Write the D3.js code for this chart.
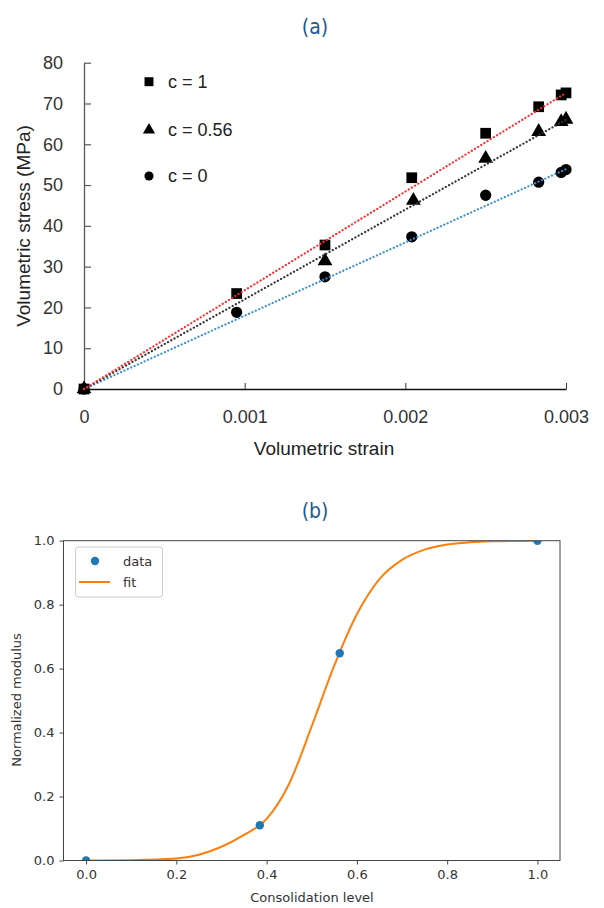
<!DOCTYPE html>
<html>
<head>
<meta charset="utf-8">
<script src="https://cdn.jsdelivr.net/npm/d3@7"></script>
<style>
  body { margin: 0; background: #fff; }
  svg { display: block; }
</style>
</head>
<body>
<svg id="chart" width="604" height="908"></svg>
<script>
// ---- (a) volumetric stress vs strain ----
const strainC1 = [0, 0.00095, 0.0015, 0.00204, 0.0025, 0.00283, 0.00297, 0.003];
const stressC1 = [0, 23.4, 35.3, 51.8, 62.7, 69.2, 72.1, 72.6];
const strainC056 = [0, 0.0015, 0.00205, 0.0025, 0.00283, 0.00297, 0.003];
const stressC056 = [0, 31.4, 46.2, 56.5, 63.1, 65.5, 66.1];
const strainC0 = [0, 0.00095, 0.0015, 0.00204, 0.0025, 0.00283, 0.00297, 0.003];
const stressC0 = [0, 18.8, 27.5, 37.3, 47.5, 50.7, 53.1, 53.8];
// dotted linear fits, read at both ends
const fitC1 = [[0, 0], [0.003, 72.6]];
const fitC056 = [[0, 0], [0.003, 66.0]];
const fitC0 = [[0, 0], [0.003, 53.9]];
const legendA = ["c = 1", "c = 0.56", "c = 0"];
const yTicksA = [0, 10, 20, 30, 40, 50, 60, 70, 80];
const xTicksA = [0, 0.001, 0.002, 0.003];
const xTickLabelsA = ["0", "0.001", "0.002", "0.003"];

// ---- (b) normalized modulus vs consolidation ----
const consolidation = [0, 0.385, 0.562, 1.0];
const modulus = [0, 0.11, 0.648, 1.0];
const fitX = [0, 0.1, 0.2, 0.25, 0.3, 0.35, 0.4, 0.45, 0.5, 0.55, 0.6, 0.65, 0.7, 0.75, 0.8, 0.85, 0.9, 1.0];
const fitY = [0, 0.001, 0.006, 0.018, 0.043, 0.08, 0.13, 0.24, 0.42, 0.61, 0.77, 0.88, 0.94, 0.972, 0.988, 0.995, 0.998, 1.0];
const ticksB = [0, 0.2, 0.4, 0.6, 0.8, 1.0];

const svg = d3.select('#chart');
const fontA = '"Liberation Sans", Arial, sans-serif';
const fontB = '"DejaVu Sans", sans-serif';
const titleFont = '"Liberation Sans Narrow", "DejaVu Sans Condensed", "Liberation Sans", sans-serif';

// titles
svg.append('text').attr('x', 315).attr('y', 34).attr('text-anchor', 'middle')
    .attr('font-family', titleFont).attr('font-size', 21).attr('fill', '#1d5a8e').text('(a)');
svg.append('text').attr('x', 315).attr('y', 518).attr('text-anchor', 'middle')
    .attr('font-family', titleFont).attr('font-size', 21).attr('fill', '#1d5a8e').text('(b)');

// ===== chart (a) =====
let xA = d3.scaleLinear().domain([0, 0.003]).range([84, 566]);
let yA = d3.scaleLinear().domain([0, 80]).range([389, 62.7]);

let gA = svg.append('g');

let yAxisA = gA.append('g')
    .attr('transform', 'translate(' + xA(0) + ',0)')
    .call(d3.axisLeft(yA).tickValues(yTicksA).tickFormat(d3.format('d'))
        .tickSizeInner(-7).tickSizeOuter(0).tickPadding(21));
yAxisA.select('.domain').attr('stroke', '#595959').attr('stroke-width', 1.3);
yAxisA.selectAll('.tick line').attr('stroke', '#595959').attr('stroke-width', 1.2);
yAxisA.selectAll('.tick text').attr('font-family', fontA).attr('font-size', 18).attr('fill', '#333');

let xAxisA = gA.append('g')
    .attr('transform', 'translate(0,' + yA(0) + ')')
    .call(d3.axisBottom(xA).tickValues(xTicksA).tickFormat((d, i) => xTickLabelsA[i])
        .tickSizeInner(-6).tickSizeOuter(0).tickPadding(21));
xAxisA.select('.domain').attr('stroke', '#111').attr('stroke-width', 1.3);
xAxisA.selectAll('.tick line').attr('stroke', '#333').attr('stroke-width', 1);
xAxisA.selectAll('.tick text').attr('font-family', fontA).attr('font-size', 18).attr('fill', '#333');

gA.append('text').attr('x', 324).attr('y', 455).attr('text-anchor', 'middle')
    .attr('font-family', fontA).attr('font-size', 19).attr('fill', '#222').text('Volumetric strain');
gA.append('text').attr('transform', 'translate(30,226) rotate(-90)').attr('text-anchor', 'middle')
    .attr('font-family', fontA).attr('font-size', 19).attr('fill', '#222').text('Volumetric stress (MPa)');

// markers (drawn before the fit lines, which sit on top)
const sym = [d3.symbolSquare, d3.symbolTriangle, d3.symbolCircle];
const symSize = [115, 95, 100];
const seriesA = [
  { xs: strainC056, ys: stressC056, s: 1 },
  { xs: strainC0, ys: stressC0, s: 2 },
  { xs: strainC1, ys: stressC1, s: 0 }
];
seriesA.forEach(function(ser) {
  gA.append('g').selectAll('path')
      .data(d3.range(ser.xs.length))
      .join('path')
      .attr('transform', i => 'translate(' + xA(ser.xs[i]) + ',' + yA(ser.ys[i]) + ')')
      .attr('d', d3.symbol().type(sym[ser.s]).size(symSize[ser.s]))
      .attr('fill', '#000');
});

let lineA = d3.line().x(d => xA(d[0])).y(d => yA(d[1]));
const fits = [[fitC0, '#3a8fd6'], [fitC056, '#333'], [fitC1, '#ff2a2a']];
fits.forEach(function(f) {
  gA.append('path')
      .attr('d', lineA(f[0]))
      .attr('fill', 'none')
      .attr('stroke', f[1])
      .attr('stroke-width', 2.2)
      .attr('stroke-linecap', 'round')
      .attr('stroke-dasharray', '0.1,3.6');
});

// legend (a)
const legY = [81.7, 130, 176];
legendA.forEach(function(t, i) {
  gA.append('path')
      .attr('transform', 'translate(149,' + legY[i] + ')')
      .attr('d', d3.symbol().type(sym[i]).size(i == 0 ? 80 : 65))
      .attr('fill', '#000');
  gA.append('text').attr('x', 168).attr('y', legY[i]).attr('dy', '0.36em')
      .attr('font-family', fontA).attr('font-size', 18).attr('fill', '#222').text(t);
});

// ===== chart (b) =====
let xB = d3.scaleLinear().domain([-0.05, 1.05]).range([63.5, 560]);
let yB = d3.scaleLinear().domain([0, 1]).range([860.5, 540.7]);

let gB = svg.append('g');
svg.append('defs').append('clipPath').attr('id', 'clipB')
    .append('rect').attr('x', 63.5).attr('y', 540.7).attr('width', 560 - 63.5).attr('height', 860.5 - 540.7);

let plotB = gB.append('g').attr('clip-path', 'url(#clipB)');
let lineB = d3.line().x(i => xB(fitX[i])).y(i => yB(fitY[i])).curve(d3.curveMonotoneX);
plotB.append('path')
    .attr('d', lineB(d3.range(fitX.length)))
    .attr('fill', 'none').attr('stroke', '#ff7f0e').attr('stroke-width', 2);
plotB.selectAll('circle.pt')
    .data(d3.range(consolidation.length))
    .join('circle').attr('class', 'pt')
    .attr('cx', i => xB(consolidation[i])).attr('cy', i => yB(modulus[i]))
    .attr('r', 4.2).attr('fill', '#1f77b4');

let xAxisB = gB.append('g').attr('transform', 'translate(0,860.5)')
    .call(d3.axisBottom(xB).tickValues(ticksB).tickFormat(d3.format('.1f')).tickSize(4).tickPadding(5));
let yAxisB = gB.append('g').attr('transform', 'translate(63.5,0)')
    .call(d3.axisLeft(yB).tickValues(ticksB).tickFormat(d3.format('.1f')).tickSize(4).tickPadding(5));
[xAxisB, yAxisB].forEach(function(ax) {
  ax.select('.domain').remove();
  ax.selectAll('.tick line').attr('stroke', '#444');
  ax.selectAll('.tick text').attr('font-family', fontB).attr('font-size', 13).attr('fill', '#333');
});
gB.append('rect').attr('x', 63.5).attr('y', 540.7).attr('width', 560 - 63.5).attr('height', 860.5 - 540.7)
    .attr('fill', 'none').attr('stroke', '#444').attr('stroke-width', 1);

gB.append('text').attr('x', 312).attr('y', 902).attr('text-anchor', 'middle')
    .attr('font-family', fontB).attr('font-size', 13).attr('fill', '#333').text('Consolidation level');
gB.append('text').attr('transform', 'translate(21,700) rotate(-90)').attr('text-anchor', 'middle')
    .attr('font-family', fontB).attr('font-size', 13).attr('fill', '#333').text('Normalized modulus');

// legend (b)
gB.append('rect').attr('x', 75.5).attr('y', 547).attr('width', 87).attr('height', 50).attr('rx', 3)
    .attr('fill', '#fff').attr('fill-opacity', 0.8).attr('stroke', '#ccc');
gB.append('circle').attr('cx', 95).attr('cy', 561).attr('r', 4.2).attr('fill', '#1f77b4');
gB.append('line').attr('x1', 79).attr('x2', 110).attr('y1', 582).attr('y2', 582)
    .attr('stroke', '#ff7f0e').attr('stroke-width', 2);
gB.append('text').attr('x', 123).attr('y', 561).attr('dy', '0.36em')
    .attr('font-family', fontB).attr('font-size', 13).attr('fill', '#333').text('data');
gB.append('text').attr('x', 123).attr('y', 582).attr('dy', '0.36em')
    .attr('font-family', fontB).attr('font-size', 13).attr('fill', '#333').text('fit');
</script>
</body>
</html>
